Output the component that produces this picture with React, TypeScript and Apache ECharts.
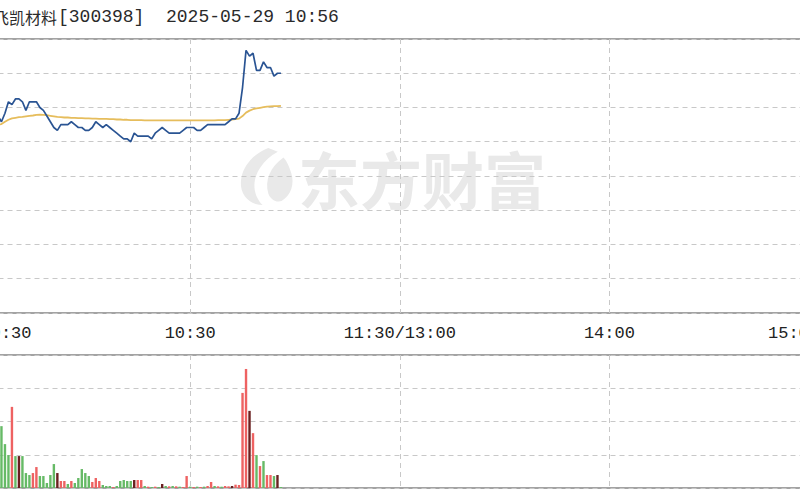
import React, { useEffect, useRef } from "react";
import * as echarts from "echarts";

// ---------- data ----------
const TITLE_NAME = "飞凯材料";
const TITLE_REST = "[300398]  2025-05-29 10:56";
const WATERMARK = "东方财富";

const PRICE_MIN = 15.12;
const PRICE_MAX = 16.08;
const PRICE_STEP = 0.12;

const VOLUME_MAX = 4000;
const VOLUME_STEP = 1000;

const TICK_TIMES = ["09:30", "10:30", "11:30", "14:00", "15:00"];
const TICK_LABELS = ["09:30", "10:30", "11:30/13:00", "14:00", "15:00"];

// minute prices 09:30 .. 10:56
const PRICE = [
  15.78, 15.79, 15.77, 15.8, 15.79, 15.81, 15.79, 15.82, 15.86, 15.85,
  15.87, 15.87, 15.86, 15.83, 15.86, 15.86, 15.86, 15.84, 15.83, 15.81,
  15.79, 15.77, 15.76, 15.78, 15.78, 15.78, 15.79, 15.78, 15.77, 15.77,
  15.76, 15.76, 15.77, 15.79, 15.78, 15.77, 15.78, 15.77, 15.76, 15.75,
  15.74, 15.73, 15.73, 15.72, 15.75, 15.74, 15.74, 15.74, 15.74, 15.73,
  15.75, 15.76, 15.77, 15.76, 15.75, 15.75, 15.75, 15.75, 15.76, 15.77,
  15.77, 15.77, 15.76, 15.76, 15.77, 15.78, 15.78, 15.78, 15.78, 15.78,
  15.78, 15.79, 15.8, 15.8, 15.82, 15.91, 16.04, 16.02, 16.03, 15.97,
  15.97, 16.0, 15.98, 15.98, 15.95, 15.96, 15.96,
];

const AVG_PRICE = [
  15.78, 15.783, 15.781, 15.784, 15.783, 15.78, 15.782, 15.79, 15.797, 15.802,
  15.804, 15.806, 15.807, 15.809, 15.811, 15.812, 15.814, 15.815, 15.814, 15.813,
  15.811, 15.809, 15.807, 15.806, 15.805, 15.805, 15.804, 15.804, 15.803, 15.803,
  15.802, 15.802, 15.801, 15.801, 15.8, 15.8, 15.8, 15.799, 15.799, 15.798,
  15.798, 15.797, 15.797, 15.796, 15.796, 15.796, 15.796, 15.795, 15.795, 15.795,
  15.795, 15.795, 15.795, 15.795, 15.795, 15.795, 15.795, 15.795, 15.795, 15.795,
  15.795, 15.795, 15.795, 15.795, 15.795, 15.795, 15.795, 15.795, 15.796, 15.796,
  15.796, 15.797, 15.798, 15.799, 15.801, 15.81, 15.822, 15.829, 15.834, 15.837,
  15.839, 15.841, 15.843, 15.844, 15.845, 15.845, 15.846,
];

const VOLUME = [
  2400, 1500, 1200, 1300, 900, 1400, 1860, 1320, 990, 2440,
  960, 960, 960, 450, 390, 450, 630, 360, 360, 150,
  390, 720, 450, 210, 210, 120, 210, 150, 300, 570,
  450, 360, 180, 300, 210, 90, 60, 60, 30, 60,
  210, 240, 210, 210, 240, 240, 240, 60, 40, 30,
  40, 30, 120, 60, 50, 60, 50, 40, 30, 360,
  40, 30, 40, 30, 40, 60, 180, 60, 50, 40,
  60, 50, 60, 100, 90, 2860, 3580, 2320, 1650, 990,
  660, 810, 390, 390, 360, 390, 30,
];

// u = up (red), d = down (green), e = flat (dark)
const VOLUME_DIR = [
  "u", "d", "u", "d", "u", "d", "d", "d", "d", "u",
  "d", "e", "d", "d", "d", "u", "u", "d", "d", "d",
  "d", "d", "e", "u", "u", "d", "u", "d", "d", "d",
  "d", "d", "u", "u", "u", "d", "d", "d", "u", "d",
  "d", "d", "d", "d", "e", "u", "u", "d", "u", "d",
  "u", "d", "e", "d", "u", "d", "u", "d", "u", "u",
  "d", "u", "d", "u", "d", "u", "u", "d", "u", "d",
  "u", "u", "e", "u", "u", "u", "u", "e", "u", "d",
  "u", "d", "u", "u", "d", "e", "d",
];

const DIR_COLOR: Record<string, string> = {
  u: "#ee6262",
  d: "#66ba66",
  e: "#6a2020",
};

const CATEGORIES: string[] = (() => {
  const out: string[] = [];
  for (let i = 0; i <= 240; i++) {
    const t = i <= 120 ? 9 * 60 + 30 + i : 13 * 60 + (i - 120);
    const h = Math.floor(t / 60);
    const m = t % 60;
    out.push(`${String(h).padStart(2, "0")}:${String(m).padStart(2, "0")}`);
  }
  return out;
})();

// ---------- layout ----------
const OFFSET = 40; // chart div begins 40px left of the page
const DIV_W = 880;
const DIV_H = 500;

const LOGO_D =
  "M34 2 C14 10 2 28 6 46 C9 56 18 62 28 62 C18 52 16 36 26 22 C30 16 36 10 44 6 Z " +
  "M50 12 C36 22 30 36 34 50 C36 56 42 60 48 58 C58 52 62 40 58 28 C56 22 54 16 50 12 Z";

export default function App() {
  const ref = useRef<HTMLDivElement>(null);

  useEffect(() => {
    if (!ref.current) return;
    echarts.graphic.registerShape(
      "emlogo",
      echarts.graphic.extendPath(LOGO_D, {}) as any
    );
    const chart = echarts.init(ref.current, undefined, { renderer: "svg" });

    const dashed = { color: "#c8c8c8", type: [5, 4] as any, width: 1 };

    const option: any = {
      animation: false,
      backgroundColor: "#ffffff",
      graphic: [
        {
          type: "emlogo",
          x: 236 + OFFSET,
          y: 146,
          scaleX: 0.95,
          scaleY: 0.95,
          z: -10,
          style: { fill: "#e9e9e9" },
        },
        {
          type: "text",
          x: 298 + OFFSET,
          y: 178,
          z: -10,
          style: {
            text: WATERMARK,
            fill: "#e9e9e9",
            font: "bold 62px 'Noto Sans CJK SC'",
            textVerticalAlign: "middle",
            verticalAlign: "middle",
          },
        },
        {
          type: "text",
          x: -7 + OFFSET,
          y: 17,
          style: {
            text: TITLE_NAME,
            fill: "#2a2a2a",
            font: "16px 'Noto Sans CJK SC'",
            verticalAlign: "middle",
            textVerticalAlign: "middle",
          },
        },
        {
          type: "text",
          x: 58 + OFFSET,
          y: 17,
          style: {
            text: TITLE_REST,
            fill: "#2a2a2a",
            font: "18px 'Liberation Mono', 'Noto Sans CJK SC'",
            verticalAlign: "middle",
            textVerticalAlign: "middle",
          },
        },
      ],
      grid: [
        {
          left: 20.5,
          right: 21,
          top: 39,
          height: 274,
          show: true,
          borderColor: "#a3a3a3",
          borderWidth: 2,
          backgroundColor: "transparent",
          outerBoundsMode: "none",
        },
        {
          left: 20.5,
          right: 21,
          top: 355,
          height: 133,
          show: true,
          borderColor: "#a3a3a3",
          borderWidth: 2,
          backgroundColor: "transparent",
          outerBoundsMode: "none",
        },
      ],
      xAxis: [
        {
          type: "category",
          gridIndex: 0,
          data: CATEGORIES,
          boundaryGap: false,
          axisLine: { show: false },
          axisTick: { show: false },
          axisLabel: {
            interval: 59,
            margin: 12,
            color: "#222",
            fontSize: 17,
            fontFamily: "'Liberation Mono'",
            alignMinLabel: "left",
            alignMaxLabel: "right",
            formatter: (v: string) => {
              const k = TICK_TIMES.indexOf(v);
              return k >= 0 ? TICK_LABELS[k] : "";
            },
          },
          splitLine: { show: true, interval: 59, lineStyle: dashed },
        },
        {
          type: "category",
          gridIndex: 1,
          data: CATEGORIES,
          boundaryGap: false,
          axisLine: { show: false },
          axisTick: { show: false },
          axisLabel: { show: false },
          splitLine: { show: true, interval: 59, lineStyle: dashed },
        },
      ],
      yAxis: [
        {
          type: "value",
          gridIndex: 0,
          min: PRICE_MIN,
          max: PRICE_MAX,
          interval: PRICE_STEP,
          axisLine: { show: false },
          axisTick: { show: false },
          axisLabel: { show: false },
          splitLine: { show: true, lineStyle: dashed },
        },
        {
          type: "value",
          gridIndex: 1,
          min: 0,
          max: VOLUME_MAX,
          interval: VOLUME_STEP,
          axisLine: { show: false },
          axisTick: { show: false },
          axisLabel: { show: false },
          splitLine: { show: true, lineStyle: dashed },
        },
      ],
      series: [
        {
          type: "line",
          name: "avg",
          xAxisIndex: 0,
          yAxisIndex: 0,
          data: AVG_PRICE,
          showSymbol: false,
          symbol: "none",
          lineStyle: { color: "#e6bd5c", width: 1.8 },
          z: 3,
        },
        {
          type: "line",
          name: "price",
          xAxisIndex: 0,
          yAxisIndex: 0,
          data: PRICE,
          showSymbol: false,
          symbol: "none",
          lineStyle: { color: "#2a5493", width: 1.7 },
          z: 4,
        },
        {
          type: "bar",
          name: "volume",
          xAxisIndex: 1,
          yAxisIndex: 1,
          barWidth: 2.4,
          data: VOLUME.map((v, i) => ({
            value: v,
            itemStyle: { color: DIR_COLOR[VOLUME_DIR[i]] },
          })),
        },
      ],
    };

    chart.setOption(option);
    return () => chart.dispose();
  }, []);

  return (
    <div
      ref={ref}
      style={{
        position: "fixed",
        left: -OFFSET,
        top: 0,
        width: DIV_W,
        height: DIV_H,
        background: "#fff",
      }}
    />
  );
}
